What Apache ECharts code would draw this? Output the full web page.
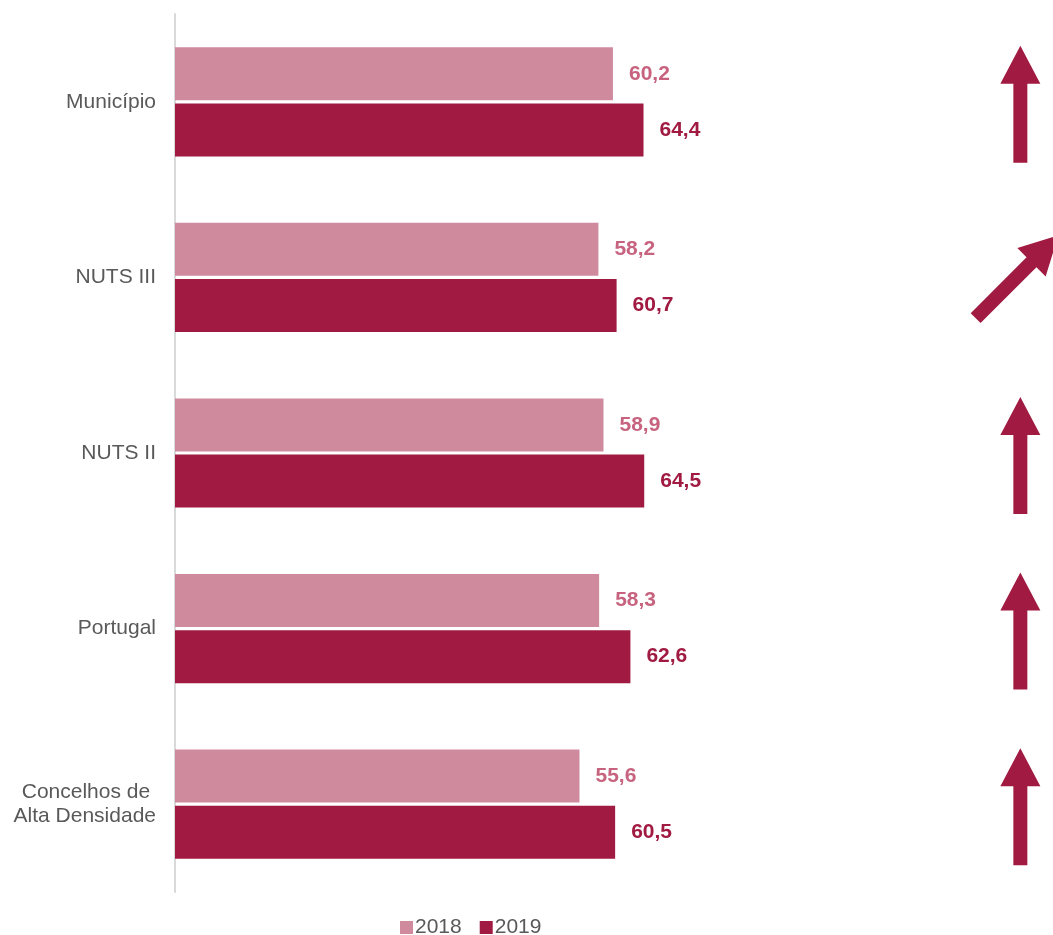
<!DOCTYPE html>
<html>
<head>
<meta charset="utf-8">
<script src="https://cdn.jsdelivr.net/npm/echarts@6/dist/echarts.min.js"></script>
<style>html,body{margin:0;padding:0;background:#fff}#c{width:1053px;height:935px}</style>
</head>
<body>
<div id="c"></div>
<script>
var categories = ['Município', 'NUTS III', 'NUTS II', 'Portugal', 'Concelhos de \nAlta Densidade'];
var values2018 = [60.2, 58.2, 58.9, 58.3, 55.6];
var values2019 = [64.4, 60.7, 64.5, 62.6, 60.5];
// trend arrow direction in degrees from vertical (0 = up, 45 = up-right)
var trendAngles = [0, 45, 0, 0, 0];
var arrowPosition = 116.2;

var chart = echarts.init(document.getElementById('c'));
var fmt = function (p) { return p.value.toFixed(1).replace('.', ','); };
chart.setOption({
  animation: false,
  textStyle: { fontFamily: 'Liberation Sans, Arial, sans-serif' },
  grid: { left: 175, right: 5, top: 14, bottom: 43, containLabel: false },
  legend: {
    data: ['2018', '2019'],
    top: 917,
    left: 400,
    padding: 0,
    itemWidth: 13, itemHeight: 13, itemGap: 18,
    icon: 'rect',
    textStyle: { fontSize: 21, color: '#595959', padding: [0, 0, 0, -3] }
  },
  xAxis: {
    type: 'value', min: 0, max: 120,
    show: false
  },
  yAxis: {
    type: 'category', data: categories, inverse: true,
    axisLine: { show: true, lineStyle: { color: '#d9d9d9', width: 2 } },
    axisTick: { show: false },
    axisLabel: { fontSize: 21, color: '#595959', margin: 19, lineHeight: 24, align: 'right' }
  },
  series: [
    {
      name: '2018', type: 'bar', data: values2018,
      barWidth: 53, barGap: '6%',
      itemStyle: { color: '#CF8A9E' },
      label: { show: true, position: 'right', distance: 16, formatter: fmt,
        fontSize: 21, fontWeight: 'bold', color: '#C7637F' }
    },
    {
      name: '2019', type: 'bar', data: values2019,
      barWidth: 53,
      itemStyle: { color: '#A11A41' },
      label: { show: true, position: 'right', distance: 16, formatter: fmt,
        fontSize: 21, fontWeight: 'bold', color: '#A11A41' }
    },
    {
      name: 'trend', type: 'custom', clip: false, silent: true,
      data: trendAngles.map(function (a, i) { return [arrowPosition, i, a]; }),
      encode: { x: 0, y: 1 },
      renderItem: function (params, api) {
        var c = api.coord([api.value(0), api.value(1)]);
        var ang = api.value(2);
        var pts = [[0, -58], [20, -20], [7, -20], [7, 59], [-7, 59], [-7, -20], [-20, -20]];
        return {
          type: 'polygon',
          x: c[0] - (ang ? 3 : 0), y: c[1] + 2 - (ang ? 3 : 0),
          rotation: -ang * Math.PI / 180,
          shape: { points: pts },
          style: { fill: '#A11A41' }
        };
      }
    }
  ]
});
</script>
</body>
</html>
